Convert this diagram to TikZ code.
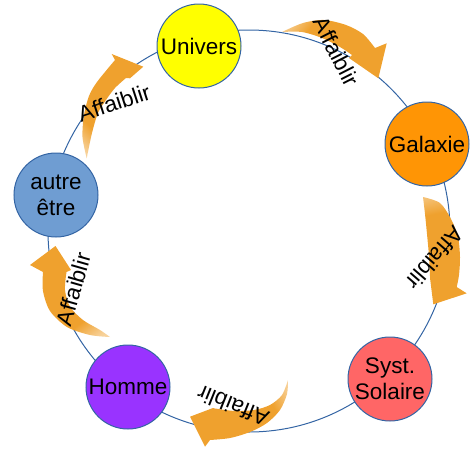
\documentclass[tikz,border=0pt]{standalone}
\usepackage{fontspec}
\setmainfont{Liberation Sans}
\usetikzlibrary{fadings}
\definecolor{ringblue}{RGB}{52,101,164}
\definecolor{arrowor}{RGB}{239,161,46}
\definecolor{cUnivers}{RGB}{255,255,0}
\definecolor{cGalaxie}{RGB}{255,149,5}
\definecolor{cSyst}{RGB}{255,102,102}
\definecolor{cHomme}{RGB}{153,51,255}
\definecolor{cAutre}{RGB}{111,157,210}
\pgfdeclarehorizontalshading{tailshade}{100bp}{color(0bp)=(white!15!black); color(20bp)=(white!50!black); color(32bp)=(white); color(100bp)=(white)}
\pgfdeclarefading{tailfade}{\pgfuseshading{tailshade}}
\begin{document}
\begin{tikzpicture}[x=1pt,y=-1pt,
  planet/.style={circle, draw=ringblue, line width=1pt, minimum size=84pt, inner sep=0pt, align=center, font=\fontsize{22.5}{26}\selectfont},
  lbl/.style={font=\fontsize{22.5}{26}\selectfont, inner sep=0pt},
  ring/.style={draw=ringblue, line width=1pt},
  bigarrow/.style={fill=arrowor, path fading=tailfade}]
\useasboundingbox (0,0) rectangle (472,448);
\coordinate (ctr) at (249,231);
\draw[ring] (ctr) circle[radius=201];
% arrows
\fill[bigarrow, fading angle=-25] plot[smooth] coordinates {(282,32) (303,23) (324,20) (346,25) (363,34) (375,48)} -- (386.7,43.3) -- (378.3,78.3) -- (349,58) -- plot[smooth] coordinates {(352,55) (340,47) (322,38) (302,32) (282,32)} -- cycle;
\fill[bigarrow, fading angle=-85] plot[smooth] coordinates {(423,197) (440,203) (451,219) (458,237) (460,257) (459,275) (456.7,287)} -- (466.7,293.3) -- (433.3,304.3) -- (430,278) -- plot[smooth] coordinates {(430,276) (429,256) (427,234) (425,214) (423,197)} -- cycle;
\fill[bigarrow, fading angle=-159] plot[smooth] coordinates {(288,380) (287,394) (280,410) (267,423) (250,432) (230,438) (210,440)} -- (205,446.7) -- (190,416.7) -- (213,408) -- plot[smooth] coordinates {(215,408.5) (235,411) (254,410) (270,405) (282,395) (288,380)} -- cycle;
\fill[bigarrow, fading angle=122] plot[smooth] coordinates {(110,337) (90,335) (67,327) (50,311) (43,291) (43,272)} -- (30,265) -- (55.5,246) -- (71,270) -- plot[smooth] coordinates {(66.5,272) (65,290) (70,306.7) (83,320) (100,330) (110,337)} -- cycle;
\fill[bigarrow, fading angle=58] plot[smooth] coordinates {(86.7,158.3) (82.5,137) (84,115) (89,96) (97,82) (115,60)} -- (111.7,54) -- (143.3,66.7) -- (130,78.3) -- plot[smooth] coordinates {(126,78) (115,88) (106,100) (98,113) (92,133) (86.7,158.3)} -- cycle;
% labels
\node[lbl, rotate=-63] (lab1) at (336.5,51.5) {Affaiblir};
\node[lbl, rotate=-131] (lab2) at (435,258) {Affaiblir};
\node[lbl, rotate=158] (lab3) at (233,406) {Affaiblir};
\node[lbl, rotate=74] (lab4) at (73.3,289) {Affaiblir};
\node[lbl, rotate=18] (lab5) at (114,103) {Affaiblir};
% planets
\node[planet, fill=cUnivers] (univers) at (199,46) {Univers};
\node[planet, fill=cGalaxie] (galaxie) at (427,144) {Galaxie};
\node[planet, fill=cSyst] (syst) at (390,379) {Syst.\\Solaire};
\node[planet, fill=cHomme] (homme) at (128,387) {Homme};
\node[planet, fill=cAutre] (autre) at (56,195) {autre\\être};
\end{tikzpicture}
\end{document}
